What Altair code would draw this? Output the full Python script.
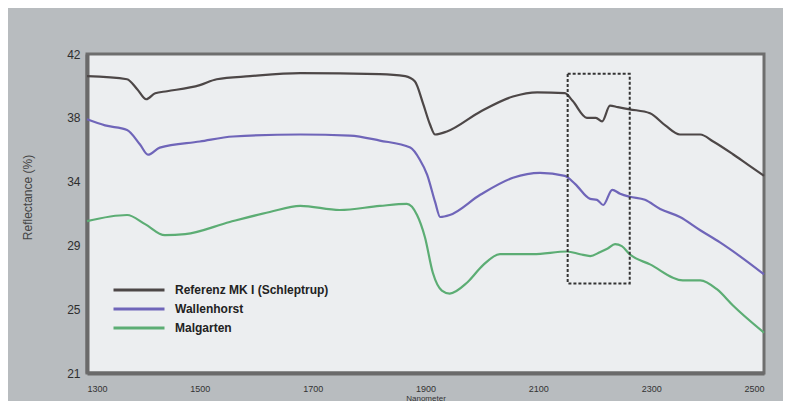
import altair as alt
import pandas as pd

# --- data ---
ref_nm = [1300, 1371, 1389, 1405, 1421, 1442, 1500, 1530, 1589, 1678, 1819, 1864, 1881, 1896,
          1908, 1917, 1938, 1997, 2055, 2098, 2147, 2161, 2186, 2202, 2213, 2227, 2241, 2262,
          2298, 2325, 2351, 2387, 2410, 2445, 2472, 2500]
ref_val = [40.54, 40.34, 39.68, 39.02, 39.42, 39.55, 39.95, 40.34, 40.54, 40.74, 40.68, 40.54,
           40.2, 38.7, 37.36, 36.7, 36.9, 38.2, 39.2, 39.48, 39.42, 38.9, 37.8, 37.8, 37.56,
           38.6, 38.5, 38.36, 38.1, 37.3, 36.7, 36.7, 36.24, 35.4, 34.7, 33.98]

wal_nm = [1300, 1332, 1371, 1394, 1408, 1429, 1500, 1559, 1678, 1766, 1819, 1873, 1890, 1903,
          1917, 1926, 1943, 1997, 2055, 2103, 2147, 2165, 2192, 2204, 2215, 2231, 2245, 2262,
          2289, 2316, 2351, 2387, 2422, 2457, 2500]
wal_val = [37.7, 37.3, 37.0, 36.04, 35.37, 35.84, 36.24, 36.57, 36.7, 36.63, 36.3, 35.84,
           35.04, 34.05, 32.26, 31.27, 31.4, 32.73, 33.85, 34.18, 33.98, 33.45, 32.46, 32.4,
           32.06, 33.06, 32.8, 32.6, 32.4, 31.8, 31.27, 30.4, 29.6, 28.7, 27.5]

mal_nm = [1300, 1371, 1403, 1438, 1474, 1553, 1624, 1678, 1748, 1819, 1867, 1885, 1899, 1913,
          1929, 1943, 1974, 2002, 2032, 2091, 2151, 2174, 2192, 2209, 2223, 2236, 2248, 2262,
          2298, 2356, 2387, 2417, 2445, 2500]
mal_val = [31.0, 31.4, 30.8, 30.07, 30.14, 30.94, 31.6, 32.0, 31.73, 32.0, 32.13, 31.4, 29.94,
           27.6, 26.43, 26.23, 26.96, 28.1, 28.82, 28.82, 29.0, 28.82, 28.7, 28.95, 29.2, 29.48,
           29.35, 28.82, 28.15, 27.1, 27.1, 26.5, 25.44, 23.65]

series_names = ["Referenz MK I (Schleptrup)", "Wallenhorst", "Malgarten"]
series_colors = ["#4d4747", "#6f65b9", "#5cad74"]

box_nm = [2152, 2262]
box_val = [26.9, 40.7]

x_ticks = [1300, 1500, 1700, 1900, 2100, 2300, 2500]
y_ticks = [42, 37.8, 33.6, 29.4, 25.2, 21]

# --- build tables ---
rows = []
for name, nms, vals in zip(series_names, [ref_nm, wal_nm, mal_nm], [ref_val, wal_val, mal_val]):
    for i, (n, v) in enumerate(zip(nms, vals)):
        rows.append({"series": name, "nm": n, "val": v, "order": i})
df = pd.DataFrame(rows)
box_df = pd.DataFrame([{"x1": box_nm[0], "x2": box_nm[1], "y1": box_val[0], "y2": box_val[1]}])

x_scale = alt.Scale(domain=[1300, 2500], nice=False, zero=False)
y_scale = alt.Scale(domain=[21, 42], nice=False, zero=False)

lines = alt.Chart(df).mark_line(strokeWidth=2.2, interpolate="monotone").encode(
    x=alt.X("nm:Q", scale=x_scale,
            axis=alt.Axis(values=x_ticks, format="d", title="Nanometer", grid=False, ticks=False,
                          labelFontSize=9, labelPadding=11, labelColor="#333333",
                          titleFontSize=8, titleFontWeight="normal", titleColor="#333333",
                          titlePadding=1, domainColor="#6a6a6a", domainWidth=4)),
    y=alt.Y("val:Q", scale=y_scale,
            axis=alt.Axis(values=y_ticks, format=".0f", title="Reflectance (%)", grid=False,
                          ticks=False, labelFontSize=12, labelPadding=7, labelColor="#2e2e2e",
                          titleFontSize=12, titleFontWeight="normal", titleColor="#444444",
                          titleX=-60, titleY=143, titleBaseline="middle",
                          domainColor="#6a6a6a", domainWidth=4)),
    color=alt.Color("series:N", scale=alt.Scale(domain=series_names, range=series_colors),
                    legend=alt.Legend(title=None, orient="none", legendX=25, legendY=228,
                                      symbolType="stroke", symbolSize=2601, symbolStrokeWidth=3,
                                      clipHeight=16, rowPadding=3, labelOffset=9, padding=0,
                                      labelFontSize=12, labelFontWeight="bold",
                                      labelColor="#222222", labelFont="Liberation Sans")),
    order="order:Q",
)

box = alt.Chart(box_df).mark_rect(fillOpacity=0, stroke="#333333", strokeWidth=2,
                                  strokeDash=[3, 2]).encode(
    x="x1:Q", x2="x2:Q", y="y1:Q", y2="y2:Q"
)

chart = alt.layer(lines, box).properties(
    width=677, height=319,
    padding={"left": 79, "top": 46, "right": 19, "bottom": 28},
    autosize=alt.AutoSizeParams(type="none"),
    background="#b8bcbf",
).configure(
    font="Liberation Sans"
).configure_view(
    fill="#eceef0", stroke="#6e6e6e", strokeWidth=3
)

chart.save("out.html", embed_options={"renderer": "svg", "actions": False})
